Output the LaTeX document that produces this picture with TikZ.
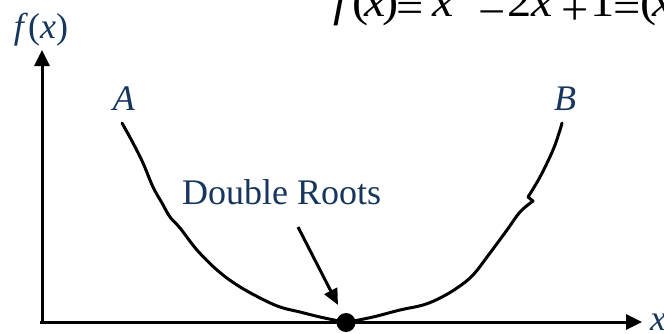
\documentclass[tikz,border=0pt]{standalone}
\usepackage{fontspec}
\setmainfont{Liberation Serif}
\usetikzlibrary{arrows.meta}
\definecolor{txtblue}{RGB}{23,54,93}
\begin{document}
\begin{tikzpicture}[x=1pt,y=-1pt,
  lbl/.style={inner sep=0pt,text=txtblue,font=\fontsize{36}{40}\selectfont},
  eqg/.style={inner sep=0pt,anchor=base,xscale=1.1,font=\fontsize{44}{48}\selectfont},
  axis/.style={line width=3pt,-{Triangle[length=16pt,width=15pt]}},
  curve/.style={line width=3pt,line join=round,line cap=round}]
\useasboundingbox (0,0) rectangle (664,333);
% axes
\coordinate (O) at (42,322);
\coordinate (xs) at (40,322);
\coordinate (ytip) at (42,50);
\coordinate (xtip) at (642,322);
\draw[axis] (O) -- (ytip);
\draw[axis] (xs) -- (xtip);
% labels
\node[lbl,anchor=base] (fx) at (41,38) {\textit{f}(\textit{x})};
\node[lbl,anchor=base west] (xl) at (650,330) {\textit{x}};
\node[lbl,anchor=base] (A) at (124,110) {\textit{A}};
\node[lbl,anchor=base] (B) at (565,110) {\textit{B}};
\node[lbl,anchor=base west] (dr) at (182,204) {Double Roots};
% equation f(x) = x^2 - 2x + 1 = (x - 1)^2, glyph by glyph (top cut by the page edge)
\foreach \p/\b/\g [count=\i] in {343.5/16/{\textit{f}},361/16/{(},375/16/{\textit{x}},391/16/{)},410/22/{=},443/16/{\textit{x}},492.5/26/{−},520/16/{2},542.5/16/{\textit{x}},575/24/{+},602.5/16/{1},627.5/22/{=},649/16/{(},663/16/{\textit{x}},700/26/{−},730/16/{1},750/16/{)}}
  \node[eqg] (eq\i) at (\p,\b) {\g};
\node[eqg,font=\fontsize{30}{32}\selectfont] (sq1) at (466,-14) {2};
\node[eqg,font=\fontsize{30}{32}\selectfont] (sq2) at (768,-14) {2};
% curve
\draw[curve] plot[smooth,tension=0.6] coordinates {(122,123) (133,143) (143,163) (153,187) (162,203) (170,217) (180,228) (197,250) (217,270) (237,285) (260,298) (280,307) (300,312) (320,317) (346,322.5)};
\draw[curve] plot[smooth,tension=0.6] coordinates {(346,322.5) (373,317) (400,310) (423,305) (440,298) (457,288) (473,275) (490,253) (507,230) (520,212) (533,201)} -- (528,197) -- plot[smooth,tension=0.6] coordinates {(528,197) (540,177) (553,150) (560,130) (562,123)};
% root dot
\node[circle,fill=black,inner sep=0pt,minimum size=19pt] (root) at (346,322.5) {};
% arrow
\coordinate (as) at (298,227);
\coordinate (at) at (338,305);
\draw[line width=3pt,-{Triangle[length=16pt,width=14pt]}] (as) -- (at);
\end{tikzpicture}
\end{document}
